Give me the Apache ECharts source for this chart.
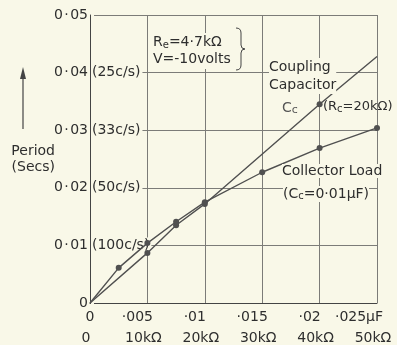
<!DOCTYPE html>
<html>
<head>
<meta charset="utf-8">
<style>
  html, body { margin: 0; padding: 0; background: #f9f8e8; }
  #main { width: 397px; height: 345px; }
</style>
</head>
<body>
<div id="main"></div>
<script src="https://cdn.jsdelivr.net/npm/echarts@6/dist/echarts.min.js"></script>
<script>
// 数据：周期（秒）
var capX = [0, 0.005, 0.0075, 0.01, 0.02, 0.025];           // Coupling Capacitor Cc (μF)
var capY = [0, 0.0087, 0.0135, 0.0172, 0.0345, 0.0428];
var loadX = [0, 0.0025, 0.005, 0.0075, 0.01, 0.015, 0.02, 0.025]; // Collector Load
var loadY = [0, 0.0061, 0.0104, 0.0141, 0.0175, 0.0227, 0.0269, 0.0304];

// 刻度标签
var yTickLabels = ['0', '0\u200a·\u200a01', '0\u200a·\u200a02', '0\u200a·\u200a03', '0\u200a·\u200a04', '0\u200a·\u200a05'];
var freqLabels = ['', '(100c/s)', '(50c/s)', '(33c/s)', '(25c/s)', ''];
var xTopLabels = ['0', '·005', '·01', '·015', '·02', '·025μF'];
var xBottomLabels = ['0', '10kΩ', '20kΩ', '30kΩ', '40kΩ', '50kΩ'];

var bg = '#f9f8e8';
var ink = '#2e2e2e';
var lineCol = '#505050';
var gridCol = '#7c7c78';
var font = 'DejaVu Sans';

function pairs(xs, ys, skipFirst, skipLast) {
    return xs.map(function (x, i) {
        var item = { value: [x, ys[i]] };
        if ((skipFirst && i === 0) || (skipLast && i === xs.length - 1)) item.symbol = 'none';
        return item;
    });
}

// 花括号的几段
function brace(stroke) {
    var s = { stroke: stroke, lineWidth: 1, fill: null };
    return [
        { type: 'bezierCurve', z: 10, shape: { x1: 236, y1: 28, x2: 241, y2: 33, cpx1: 241, cpy1: 28 }, style: s },
        { type: 'line', z: 10, shape: { x1: 241, y1: 33, x2: 241, y2: 45 }, style: s },
        { type: 'bezierCurve', z: 10, shape: { x1: 241, y1: 45, x2: 245, y2: 49, cpx1: 241, cpy1: 49 }, style: s },
        { type: 'bezierCurve', z: 10, shape: { x1: 245, y1: 49, x2: 241, y2: 53, cpx1: 241, cpy1: 49 }, style: s },
        { type: 'line', z: 10, shape: { x1: 241, y1: 53, x2: 241, y2: 65 }, style: s },
        { type: 'bezierCurve', z: 10, shape: { x1: 241, y1: 65, x2: 236, y2: 70, cpx1: 241, cpy1: 70 }, style: s }
    ];
}

var myChart = echarts.init(document.getElementById('main'));

var option = {
    backgroundColor: bg,
    animation: false,
    textStyle: { fontFamily: font, color: ink },
    grid: { left: 90, top: 15, right: 20, bottom: 42 },
    xAxis: [
        {
            type: 'value', min: 0, max: 0.025, interval: 0.005,
            axisLine: { lineStyle: { color: '#444', width: 1 } },
            axisTick: { show: false },
            splitLine: { show: true, lineStyle: { color: gridCol, width: 1 } },
            axisLabel: {
                margin: 7, fontSize: 14, color: ink, fontFamily: font,
                formatter: function (v) {
                    var i = Math.round(v / 0.005);
                    if (i === 0) return xTopLabels[i];
                    return (i === 5 ? '{l|' : '{s|') + xTopLabels[i] + '}';
                },
                rich: {
                    s: { fontSize: 14, fontFamily: font, color: ink, padding: [0, 20, 0, 0] },
                    l: { fontSize: 14, fontFamily: font, color: ink, padding: [0, 36, 0, 0] }
                }
            }
        },
        {
            type: 'value', min: 0, max: 0.025, interval: 0.005,
            position: 'bottom', offset: 21,
            axisLine: { show: false },
            axisTick: { show: false },
            splitLine: { show: false },
            axisLabel: {
                margin: 7, fontSize: 14, color: ink, fontFamily: font,
                formatter: function (v) {
                    return '{s|' + xBottomLabels[Math.round(v / 0.005)] + '}';
                },
                rich: {
                    s: { fontSize: 14, fontFamily: font, color: ink, padding: [0, 8, 0, 0] }
                }
            }
        }
    ],
    yAxis: [
        {
            type: 'value', min: 0, max: 0.05, interval: 0.01,
            name: 'Period\n(Secs)',
            nameLocation: 'middle', nameRotate: 0, nameGap: 35,
            nameMoveOverlap: false,
            nameTextStyle: { fontSize: 14, color: ink, fontFamily: font, lineHeight: 16, padding: [0, 0, 8, 0] },
            axisLine: { show: true, lineStyle: { color: '#444', width: 1 } },
            axisTick: { show: false },
            splitLine: { show: true, lineStyle: { color: gridCol, width: 1 } },
            axisLabel: {
                margin: 2, fontSize: 14, color: ink, fontFamily: font,
                formatter: function (v) { return yTickLabels[Math.round(v / 0.01)]; }
            }
        },
        {
            type: 'value', min: 0, max: 0.05, interval: 0.01,
            position: 'left',
            axisLine: { show: false },
            axisTick: { show: false },
            splitLine: { show: false },
            axisLabel: {
                inside: true, margin: 1, fontSize: 14, color: ink, fontFamily: font,
                backgroundColor: bg, padding: [1, 2, 1, 1],
                formatter: function (v) { return freqLabels[Math.round(v / 0.01)]; }
            }
        }
    ],
    series: [
        {
            name: 'Coupling Capacitor', type: 'line',
            data: pairs(capX, capY, true, true),
            symbol: 'circle', symbolSize: 6,
            lineStyle: { color: lineCol, width: 1.4 },
            itemStyle: { color: lineCol },
            z: 5
        },
        {
            name: 'Collector Load', type: 'line',
            data: pairs(loadX, loadY, true, false),
            symbol: 'circle', symbolSize: 6,
            lineStyle: { color: lineCol, width: 1.4 },
            itemStyle: { color: lineCol },
            z: 5
        }
    ],
    graphic: [
        // 箭头
        { type: 'line', shape: { x1: 23, y1: 129, x2: 23, y2: 74 }, style: { stroke: '#444', lineWidth: 1.2 } },
        { type: 'polygon', shape: { points: [[23, 67], [20, 79], [26, 79]] }, style: { fill: '#444' } },
        // Re / V 注释
        {
            type: 'text', x: 151, y: 33, z: 10,
            style: {
                text: '{n|R}{b|e}{n|=4·7kΩ}\n{n|V=-10volts}',
                backgroundColor: bg, padding: [1, 2, 1, 2],
                rich: {
                    n: { fontSize: 14, fontFamily: font, fill: ink, lineHeight: 17 },
                    b: { fontSize: 10, fontFamily: font, fill: ink, padding: [6, 0, 0, 0], lineHeight: 17 }
                }
            }
        }
    ].concat(brace('#444')).concat([
        // Coupling Capacitor 注释
        {
            type: 'text', x: 269, y: 58, z: 10,
            style: {
                text: 'Coupling\nCapacitor', fontSize: 14, fontFamily: font, fill: ink,
                lineHeight: 18, backgroundColor: bg
            }
        },
        {
            type: 'text', x: 282, y: 100, z: 10,
            style: {
                text: '{n|C}{b|c}',
                rich: {
                    n: { fontSize: 14, fontFamily: font, fill: '#555', lineHeight: 16 },
                    b: { fontSize: 11, fontFamily: font, fill: '#555', padding: [5, 0, 0, 0], lineHeight: 16 }
                }
            }
        },
        {
            type: 'text', x: 323, y: 99, z: 10,
            style: {
                text: '{n|(R}{b|c}{n|=20kΩ)}',
                rich: {
                    n: { fontSize: 13, fontFamily: font, fill: ink, lineHeight: 16 },
                    b: { fontSize: 10, fontFamily: font, fill: ink, padding: [5, 0, 0, 0], lineHeight: 16 }
                }
            }
        },
        // Collector Load 注释
        {
            type: 'text', x: 282, y: 164, z: 10,
            style: { text: 'Collector Load', fontSize: 14, fontFamily: font, fill: ink, backgroundColor: bg }
        },
        {
            type: 'text', x: 283, y: 186, z: 10,
            style: {
                text: '{n|(C}{b|c}{n|=0·01μF)}',
                backgroundColor: bg,
                rich: {
                    n: { fontSize: 14, fontFamily: font, fill: ink, lineHeight: 16 },
                    b: { fontSize: 10, fontFamily: font, fill: ink, padding: [5, 0, 0, 0], lineHeight: 16 }
                }
            }
        }
    ])
};

myChart.setOption(option);
</script>
</body>
</html>
